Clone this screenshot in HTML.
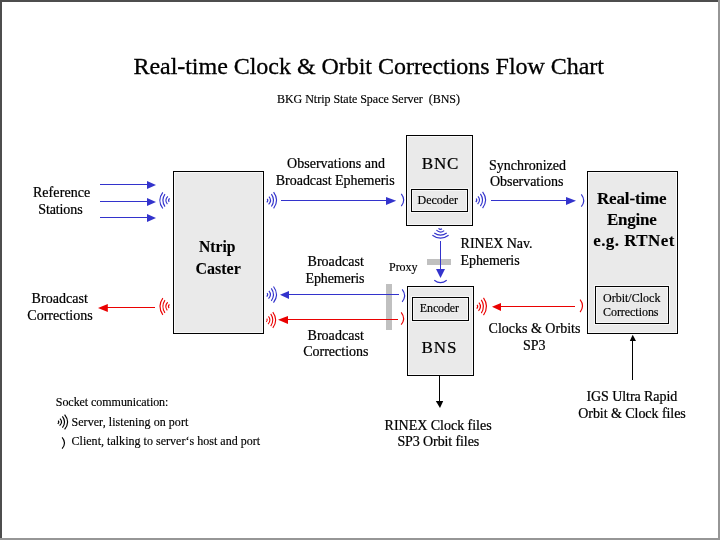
<!DOCTYPE html>
<html>
<head>
<meta charset="utf-8">
<title>Real-time Clock &amp; Orbit Corrections Flow Chart</title>
<style>
html,body{margin:0;padding:0;background:#ffffff;}
body{width:720px;height:540px;overflow:hidden;position:relative;font-family:"Liberation Serif",serif;}
svg{position:absolute;left:0;top:0;display:block;will-change:transform;opacity:0.999;}
text{font-family:"Liberation Serif",serif;fill:#000;stroke:#000;stroke-width:0.22px;}
.t12{stroke-width:0.16px;}
.t24{stroke-width:0.3px;}
.b16,.b17{stroke-width:0.1px;}
.t24{font-size:24px;}
.t17{font-size:17px;}
.t14{font-size:14px;}
.t12{font-size:12px;}
.b16{font-size:17.5px;font-weight:bold;}
.b17{font-size:17px;font-weight:bold;}
.box{fill:#eaeaea;stroke:#000;stroke-width:1;}
.bl{stroke:#3333cc;fill:none;}
.rd{stroke:#ea0000;fill:none;}
.bk{stroke:#000;fill:none;}
.blf{fill:#3333cc;}
.rdf{fill:#ea0000;}
</style>
</head>
<body>
<svg width="720" height="540" viewBox="0 0 720 540">
<defs>
  <!-- server icon: arcs bulging to the right, origin at small-arc side, centre y=0 -->
  <g id="srv" fill="none" stroke-width="1.15" stroke-linecap="butt">
    <path d="M1.2,-1.5 Q2.6,0.2 0.8,2.0"/>
    <path d="M3.0,-3.7 Q6.3,0.2 2.6,4.1"/>
    <path d="M5.4,-6.2 Q9.7,0 5.4,6.2"/>
    <path d="M7.6,-8.1 Q13.6,0 7.6,8.1"/>
  </g>
  <!-- client icon: single arc bulging to the right -->
  <path id="cli" d="M0.3,-6.2 Q5.1,0 0.3,6.2" fill="none" stroke-width="1.15"/>
</defs>

<!-- outer frame -->
<rect x="0" y="0" width="720" height="540" fill="#ffffff"/>
<rect x="0" y="0" width="718" height="2" fill="#4d4d4d"/>
<rect x="0" y="0" width="2" height="538" fill="#4d4d4d"/>
<rect x="718" y="0" width="2" height="540" fill="#969696"/>
<rect x="0" y="538" width="720" height="2" fill="#969696"/>

<!-- titles -->
<text class="t24" x="133.4" y="74" textLength="470.6" lengthAdjust="spacing">Real-time Clock &amp; Orbit Corrections Flow Chart</text>
<text class="t12" x="277" y="102.5" textLength="183" lengthAdjust="spacing" xml:space="preserve">BKG Ntrip State Space Server  (BNS)</text>

<!-- boxes -->
<g shape-rendering="crispEdges">
<rect class="box" x="173.5" y="171.5" width="90" height="162"/>
<rect class="box" x="406.5" y="135.5" width="66" height="90"/>
<rect class="box" x="411.5" y="189.5" width="56" height="22"/>
<rect class="box" x="407.5" y="286.5" width="66" height="89"/>
<rect class="box" x="412.5" y="297.5" width="56" height="23"/>
<rect class="box" x="587.5" y="171.5" width="90" height="162"/>
<rect class="box" x="595.5" y="286.5" width="73" height="37"/>
<g fill="none" stroke="#f7f7f7" stroke-width="1">
<rect x="174.5" y="172.5" width="88" height="160"/>
<rect x="407.5" y="136.5" width="64" height="88"/>
<rect x="412.5" y="190.5" width="54" height="20"/>
<rect x="410.5" y="188.5" width="58" height="24"/>
<rect x="408.5" y="287.5" width="64" height="87"/>
<rect x="413.5" y="298.5" width="54" height="21"/>
<rect x="411.5" y="296.5" width="58" height="25"/>
<rect x="588.5" y="172.5" width="88" height="160"/>
<rect x="596.5" y="287.5" width="71" height="35"/>
<rect x="594.5" y="285.5" width="75" height="39"/>
</g>
</g>

<!-- box labels -->
<text class="b16" x="199" y="252" textLength="36.5" lengthAdjust="spacingAndGlyphs">Ntrip</text>
<text class="b16" x="195.5" y="274" textLength="45.3" lengthAdjust="spacingAndGlyphs">Caster</text>
<text class="t17" x="421.8" y="168.5" textLength="36.6">BNC</text>
<text class="t12" x="417.6" y="204" textLength="40.4">Decoder</text>
<text class="t12" x="419.8" y="311.5" textLength="39.2">Encoder</text>
<text class="t17" x="421.6" y="353.1" textLength="34.8">BNS</text>
<text class="b17" x="597" y="203.5" textLength="69.6">Real-time</text>
<text class="b17" x="607" y="225.3" textLength="49.8">Engine</text>
<text class="b17" x="593.2" y="246.3" textLength="81.2">e.g. RTNet</text>
<text class="t12" x="603" y="302" textLength="57.4">Orbit/Clock</text>
<text class="t12" x="603" y="315.9" textLength="55.5">Corrections</text>

<!-- labels -->
<text class="t14" x="32.9" y="197" textLength="57.4">Reference</text>
<text class="t14" x="38.2" y="214" textLength="44.4">Stations</text>
<text class="t14" x="31.5" y="302.6" textLength="56.5">Broadcast</text>
<text class="t14" x="27.3" y="319.8" textLength="65.3">Corrections</text>
<text class="t14" x="287" y="168.3" textLength="98">Observations and</text>
<text class="t14" x="275.8" y="184.5" textLength="118.8">Broadcast Ephemeris</text>
<text class="t14" x="307.5" y="266.2" textLength="56.3">Broadcast</text>
<text class="t14" x="305.5" y="283.3" textLength="59">Ephemeris</text>
<text class="t14" x="307.5" y="340.1" textLength="56.3">Broadcast</text>
<text class="t14" x="303.2" y="356" textLength="65.3">Corrections</text>
<text class="t12" x="389" y="271" textLength="28.5">Proxy</text>
<text class="t14" x="460.6" y="247.8" textLength="72">RINEX Nav.</text>
<text class="t14" x="460.6" y="265" textLength="59">Ephemeris</text>
<text class="t14" x="489" y="169.9" textLength="77">Synchronized</text>
<text class="t14" x="490" y="186.2" textLength="73.4">Observations</text>
<text class="t14" x="488.6" y="332.6">Clocks &amp; Orbits</text>
<text class="t14" x="523" y="349.6">SP3</text>
<text class="t14" x="586.4" y="400.8" textLength="90.8">IGS Ultra Rapid</text>
<text class="t14" x="578.2" y="418.4" textLength="107.6">Orbit &amp; Clock files</text>
<text class="t14" x="384.6" y="429.9" textLength="107">RINEX Clock files</text>
<text class="t14" x="397.4" y="445.9" textLength="81.8">SP3 Orbit files</text>
<text class="t12" x="55.8" y="406.2" textLength="112.6">Socket communication:</text>
<text class="t12" x="71.5" y="426.3" textLength="116.8">Server, listening on port</text>
<text class="t12" x="71.5" y="444.6" textLength="188.6">Client, talking to server&#8216;s host and port</text>

<!-- gray proxy bars -->
<g shape-rendering="crispEdges">
<rect x="427" y="259" width="24" height="6" fill="#c0c0c0"/>
<rect x="386" y="284" width="6" height="46" fill="#c0c0c0"/>
</g>

<!-- blue arrows -->
<g class="bl" stroke-width="1" shape-rendering="crispEdges">
  <line x1="100" y1="184.5" x2="148" y2="184.5"/>
  <line x1="100" y1="201.5" x2="148" y2="201.5"/>
  <line x1="100" y1="217.5" x2="148" y2="217.5"/>
  <line x1="281" y1="200.5" x2="387" y2="200.5"/>
  <line x1="491" y1="200.5" x2="567" y2="200.5"/>
  <line x1="288" y1="294.5" x2="399" y2="294.5"/>
  <line x1="440.5" y1="241" x2="440.5" y2="270"/>
</g>
<g class="blf">
  <polygon points="156,185 147,181 147,189"/>
  <polygon points="156,202 147,198 147,206"/>
  <polygon points="156,218 147,214 147,222"/>
  <polygon points="396.2,200.8 386,197 386,205"/>
  <polygon points="576,200.8 566,197 566,205"/>
  <polygon points="280,294.8 289,291 289,299"/>
  <polygon points="440.5,278 436,269 445,269"/>
</g>

<!-- red arrows -->
<g class="rd" stroke-width="1" shape-rendering="crispEdges">
  <line x1="107" y1="307.5" x2="155" y2="307.5"/>
  <line x1="287" y1="319.5" x2="398" y2="319.5"/>
  <line x1="500" y1="306.5" x2="575" y2="306.5"/>
</g>
<g class="rdf">
  <polygon points="98,308 107.8,304 107.8,312"/>
  <polygon points="278,319.8 288,316 288,324"/>
  <polygon points="492,306.8 501,303 501,311"/>
</g>

<!-- black arrows -->
<g class="bk" stroke-width="1" shape-rendering="crispEdges">
  <line x1="439.5" y1="375" x2="439.5" y2="402"/>
  <line x1="632.5" y1="380" x2="632.5" y2="340"/>
</g>
<polygon points="440,408 435.8,401 443.2,401" fill="#000"/>
<polygon points="632.7,334.8 629.8,341 636,341" fill="#000"/>

<!-- server icons -->
<use href="#srv" class="bl" transform="translate(170.4,200.4) rotate(180)"/>
<use href="#srv" class="rd" transform="translate(170.2,306.5) rotate(180) scale(0.97,1.03)"/>
<use href="#srv" class="bl" transform="translate(266,200.3)"/>
<use href="#srv" class="bl" transform="translate(265.9,294.6)"/>
<use href="#srv" class="rd" transform="translate(265.6,320) scale(0.95,0.98)"/>
<use href="#srv" class="bl" transform="translate(475,200)"/>
<use href="#srv" class="rd" transform="translate(475.9,306.5) scale(1,1.06)"/>
<use href="#srv" class="bl" transform="translate(440.5,227.6) rotate(90)"/>
<use href="#srv" class="bk" transform="translate(57,422) scale(1,0.91)"/>

<!-- client icons -->
<use href="#cli" class="bl" transform="translate(401,200)"/>
<use href="#cli" class="bl" transform="translate(581,200.5)"/>
<use href="#cli" class="bl" transform="translate(401.9,295.6)"/>
<use href="#cli" class="rd" transform="translate(400.9,318.5)"/>
<use href="#cli" class="rd" transform="translate(579.8,305.9)"/>
<use href="#cli" class="bl" transform="translate(440.5,279.9) rotate(90)"/>
<use href="#cli" class="bk" transform="translate(61.8,443) scale(1,0.91)"/>
</svg>
</body>
</html>
